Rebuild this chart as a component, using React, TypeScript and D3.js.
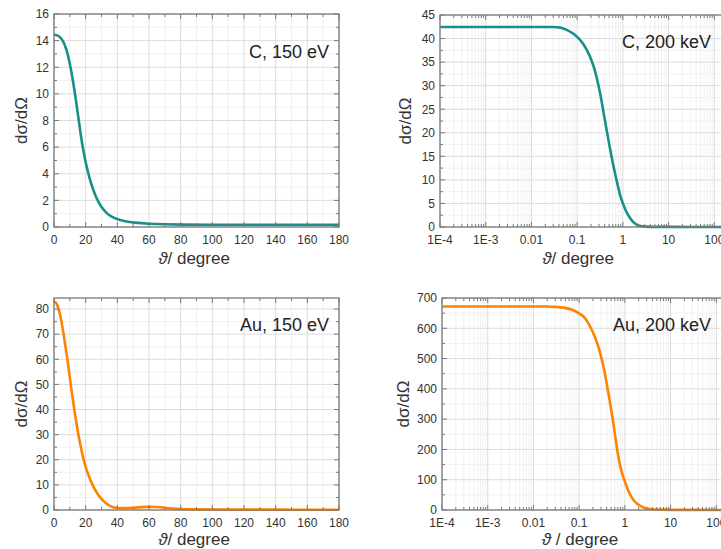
import React from "react";
import * as d3 from "d3";

// ---------- data ----------
const c150Angle = [0, 2, 4, 6, 8, 10, 11, 12, 13, 14, 15, 16, 17, 18, 19, 20, 22, 24, 26, 28, 30, 33, 36, 40, 45, 50, 60, 70, 80, 100, 120, 140, 160, 180];
const c150Value = [14.45, 14.42, 14.25, 13.95, 13.3, 12.3, 11.65, 10.95, 10.2, 9.4, 8.55, 7.7, 6.85, 6.1, 5.45, 4.85, 3.85, 3.05, 2.4, 1.88, 1.48, 1.05, 0.78, 0.57, 0.42, 0.33, 0.24, 0.2, 0.18, 0.17, 0.17, 0.17, 0.17, 0.17];

const c200Angle = [1e-4, 1e-3, 0.01, 0.02, 0.03, 0.0425, 0.059, 0.083, 0.116, 0.16, 0.23, 0.27, 0.32, 0.37, 0.44, 0.52, 0.62, 0.73, 0.87, 1.0, 1.2, 1.4, 1.7, 2.0, 2.4, 3, 5, 10, 100, 180];
const c200Value = [42.45, 42.45, 42.45, 42.45, 42.45, 42.4, 41.9, 41.1, 39.8, 37.9, 34.4, 31.5, 28.4, 24.8, 20.6, 16.8, 12.9, 9.85, 6.6, 5.0, 3.1, 2.0, 0.95, 0.45, 0.17, 0.07, 0.03, 0.02, 0.01, 0.01];

const au150Angle = [0, 1, 2, 3, 4, 5, 6, 7, 8, 9, 10, 11, 12, 13, 14, 15, 16, 17, 18, 19, 20, 22, 24, 26, 28, 30, 32, 34, 36, 38, 40, 45, 50, 55, 60, 65, 70, 75, 80, 90, 100, 120, 140, 160, 180];
const au150Value = [83, 82.7, 81.8, 80, 77.3, 74, 70.2, 66.2, 62, 57.5, 52.8, 48, 43.5, 39.2, 35.2, 31.5, 28, 24.8, 21.9, 19.3, 17, 13.5, 10.4, 7.9, 5.9, 4.4, 3.1, 2.1, 1.4, 0.95, 0.75, 0.7, 0.9, 1.15, 1.3, 1.2, 0.9, 0.6, 0.4, 0.25, 0.2, 0.15, 0.15, 0.1, 0.1];

const au200Angle = [1e-4, 1e-3, 0.01, 0.02, 0.03, 0.05, 0.07, 0.1, 0.125, 0.15, 0.18, 0.22, 0.26, 0.3, 0.35, 0.4, 0.45, 0.5, 0.55, 0.6, 0.67, 0.75, 0.82, 0.9, 1, 1.15, 1.3, 1.6, 2, 2.5, 3, 4, 6, 10, 100, 180];
const au200Value = [672, 672, 672, 672, 671, 668, 662, 650, 640, 624, 602, 573, 542, 509, 466, 418, 374, 333, 295, 255, 203, 160, 134, 113, 94, 68, 50, 28, 16, 8.5, 5, 2.5, 1, 0.5, 0.1, 0.05];

const linearXTicks = [0, 20, 40, 60, 80, 100, 120, 140, 160, 180];
const logXTicks = [1e-4, 1e-3, 0.01, 0.1, 1, 10, 100];
const logXTickLabels = ["1E-4", "1E-3", "0.01", "0.1", "1", "10", "100"];
const c150YTicks = [0, 2, 4, 6, 8, 10, 12, 14, 16];
const c200YTicks = [0, 5, 10, 15, 20, 25, 30, 35, 40, 45];
const au150YTicks = [0, 10, 20, 30, 40, 50, 60, 70, 80];
const au200YTicks = [0, 100, 200, 300, 400, 500, 600, 700];

const panelLabels = ["C, 150 eV", "C, 200 keV", "Au, 150 eV", "Au, 200 keV"];
const xTitles = ["ϑ/ degree", "ϑ/ degree", "ϑ/ degree", "ϑ / degree"];
const yTitle = "dσ/dΩ";

const TEAL = "#178f8b";
const ORANGE = "#ff8300";

type Panel = {
  angle: number[];
  value: number[];
  log: boolean;
  yDomain: [number, number];
  yTicks: number[];
  yMinorStep: number;
  left: number;
  right: number;
  top: number;
  bottom: number;
  color: string;
  label: string;
  labelX: number;
  labelY: number;
  xTitle: string;
  xTitleX: number;
  xTitleY: number;
  yTitleX: number;
};

const panels: Panel[] = [
  { angle: c150Angle, value: c150Value, log: false, yDomain: [0, 16], yTicks: c150YTicks, yMinorStep: 1,
    left: 54, right: 339, top: 14, bottom: 227, color: TEAL, label: panelLabels[0], labelX: 329, labelY: 52,
    xTitle: xTitles[0], xTitleX: 194, xTitleY: 264, yTitleX: 21 },
  { angle: c200Angle, value: c200Value, log: true, yDomain: [0, 45], yTicks: c200YTicks, yMinorStep: 2.5,
    left: 440, right: 726, top: 15, bottom: 227, color: TEAL, label: panelLabels[1], labelX: 711, labelY: 42,
    xTitle: xTitles[1], xTitleX: 578, xTitleY: 264, yTitleX: 405 },
  { angle: au150Angle, value: au150Value, log: false, yDomain: [0, 84.4], yTicks: au150YTicks, yMinorStep: 5,
    left: 54, right: 339, top: 298, bottom: 510, color: ORANGE, label: panelLabels[2], labelX: 329, labelY: 325,
    xTitle: xTitles[2], xTitleX: 194, xTitleY: 545, yTitleX: 21 },
  { angle: au200Angle, value: au200Value, log: true, yDomain: [0, 700], yTicks: au200YTicks, yMinorStep: 50,
    left: 442, right: 728, top: 298, bottom: 510, color: ORANGE, label: panelLabels[3], labelX: 711, labelY: 325,
    xTitle: xTitles[3], xTitleX: 580, xTitleY: 545, yTitleX: 403 },
];

const FONT = "'Liberation Sans', Arial, Helvetica, sans-serif";

function PanelView({ p, idx }: { p: Panel; idx: number }) {
  const xScale: any = p.log
    ? d3.scaleLog().domain([1e-4, 180]).range([p.left, p.right])
    : d3.scaleLinear().domain([0, 180]).range([p.left, p.right]);
  const yScale = d3.scaleLinear().domain(p.yDomain).range([p.bottom, p.top]);

  const xMajor = p.log ? logXTicks : linearXTicks;
  let xMinor: number[] = [];
  if (p.log) {
    for (let e = -4; e <= 2; e++) {
      for (let k = 2; k <= 9; k++) {
        const v = k * Math.pow(10, e);
        if (v <= 180) xMinor.push(v);
      }
    }
  } else {
    xMinor = d3.range(10, 180, 20);
  }
  const yMinor = d3.range(p.yDomain[0] + p.yMinorStep, p.yDomain[1], p.yMinorStep).filter(
    (v) => !p.yTicks.some((t) => Math.abs(t - v) < 1e-6)
  );

  const pts = p.angle.map((a, i) => [a, p.value[i]] as [number, number]);
  const line = d3
    .line<[number, number]>()
    .x((d) => xScale(d[0]))
    .y((d) => yScale(d[1]))
    .curve(d3.curveBasis);

  const clipId = `clip${idx}`;
  const xInRange = (v: number) => xScale(v) >= p.left - 0.5 && xScale(v) <= p.right + 0.5;

  const frame = "#7a7a7a";
  return (
    <g>
      <defs>
        <clipPath id={clipId}>
          <rect x={p.left} y={p.top - 2} width={p.right - p.left} height={p.bottom - p.top + 4} />
        </clipPath>
      </defs>
      {xMinor.filter(xInRange).map((v, i) => (
        <line key={"xm" + i} x1={xScale(v)} x2={xScale(v)} y1={p.top} y2={p.bottom} stroke="#eeeeee" strokeWidth={0.8} />
      ))}
      {yMinor.map((v, i) => (
        <line key={"ym" + i} x1={p.left} x2={p.right} y1={yScale(v)} y2={yScale(v)} stroke="#eeeeee" strokeWidth={0.8} />
      ))}
      {xMajor.filter(xInRange).map((v, i) => (
        <line key={"xg" + i} x1={xScale(v)} x2={xScale(v)} y1={p.top} y2={p.bottom} stroke="#dcdcdc" strokeWidth={1} />
      ))}
      {p.yTicks.map((v, i) => (
        <line key={"yg" + i} x1={p.left} x2={p.right} y1={yScale(v)} y2={yScale(v)} stroke="#dcdcdc" strokeWidth={1} />
      ))}
      <path d={line(pts) || ""} fill="none" stroke={p.color} strokeWidth={2.6} clipPath={`url(#${clipId})`} strokeLinejoin="round" />
      <rect x={p.left} y={p.top} width={p.right - p.left} height={p.bottom - p.top} fill="none" stroke={frame} strokeWidth={1.3} />
      {xMajor.filter(xInRange).map((v, i) => (
        <g key={"xt" + i}>
          <line x1={xScale(v)} x2={xScale(v)} y1={p.bottom} y2={p.bottom - 5} stroke={frame} strokeWidth={1} />
          <line x1={xScale(v)} x2={xScale(v)} y1={p.top} y2={p.top + 5} stroke={frame} strokeWidth={1} />
        </g>
      ))}
      {xMinor.filter(xInRange).map((v, i) => (
        <g key={"xmt" + i}>
          <line x1={xScale(v)} x2={xScale(v)} y1={p.bottom} y2={p.bottom - 3} stroke={frame} strokeWidth={1} />
          <line x1={xScale(v)} x2={xScale(v)} y1={p.top} y2={p.top + 3} stroke={frame} strokeWidth={1} />
        </g>
      ))}
      {p.yTicks.map((v, i) => (
        <g key={"yt" + i}>
          <line x1={p.left} x2={p.left + 5} y1={yScale(v)} y2={yScale(v)} stroke={frame} strokeWidth={1} />
          <line x1={p.right} x2={p.right - 5} y1={yScale(v)} y2={yScale(v)} stroke={frame} strokeWidth={1} />
        </g>
      ))}
      {yMinor.map((v, i) => (
        <g key={"ymt" + i}>
          <line x1={p.left} x2={p.left + 3} y1={yScale(v)} y2={yScale(v)} stroke={frame} strokeWidth={1} />
          <line x1={p.right} x2={p.right - 3} y1={yScale(v)} y2={yScale(v)} stroke={frame} strokeWidth={1} />
        </g>
      ))}
      {xMajor.map((v, i) => (
        <text key={"xl" + i} x={xScale(v)} y={p.bottom + 17} textAnchor="middle" fontSize={12} fill="#333" fontFamily={FONT}>
          {p.log ? logXTickLabels[i] : String(v)}
        </text>
      ))}
      {p.yTicks.map((v, i) => (
        <text key={"yl" + i} x={p.left - 5} y={yScale(v)} dy="0.36em" textAnchor="end" fontSize={12} fill="#333" fontFamily={FONT}>
          {String(v)}
        </text>
      ))}
      <text x={p.labelX} y={p.labelY} dy="0.36em" textAnchor="end" fontSize={18} fill="#222" fontFamily={FONT}>
        {p.label}
      </text>
      <text x={p.xTitleX} y={p.xTitleY} textAnchor="middle" fontSize={17} fill="#333" fontFamily={FONT}>
        <tspan fontStyle="italic">{p.xTitle.slice(0, 1)}</tspan>
        {p.xTitle.slice(1)}
      </text>
      <text
        transform={`translate(${p.yTitleX},${(p.top + p.bottom) / 2}) rotate(-90)`}
        textAnchor="middle"
        dy="0.36em"
        fontSize={17}
        fill="#333"
        fontFamily={FONT}
      >
        {yTitle}
      </text>
    </g>
  );
}

export default function App() {
  return (
    <svg
      width={721}
      height={549}
      viewBox="0 0 721 549"
      style={{ position: "absolute", left: 0, top: 0, background: "#fff" }}
    >
      <rect x={0} y={0} width={721} height={549} fill="#fff" />
      {panels.map((p, i) => (
        <PanelView key={i} p={p} idx={i} />
      ))}
    </svg>
  );
}
